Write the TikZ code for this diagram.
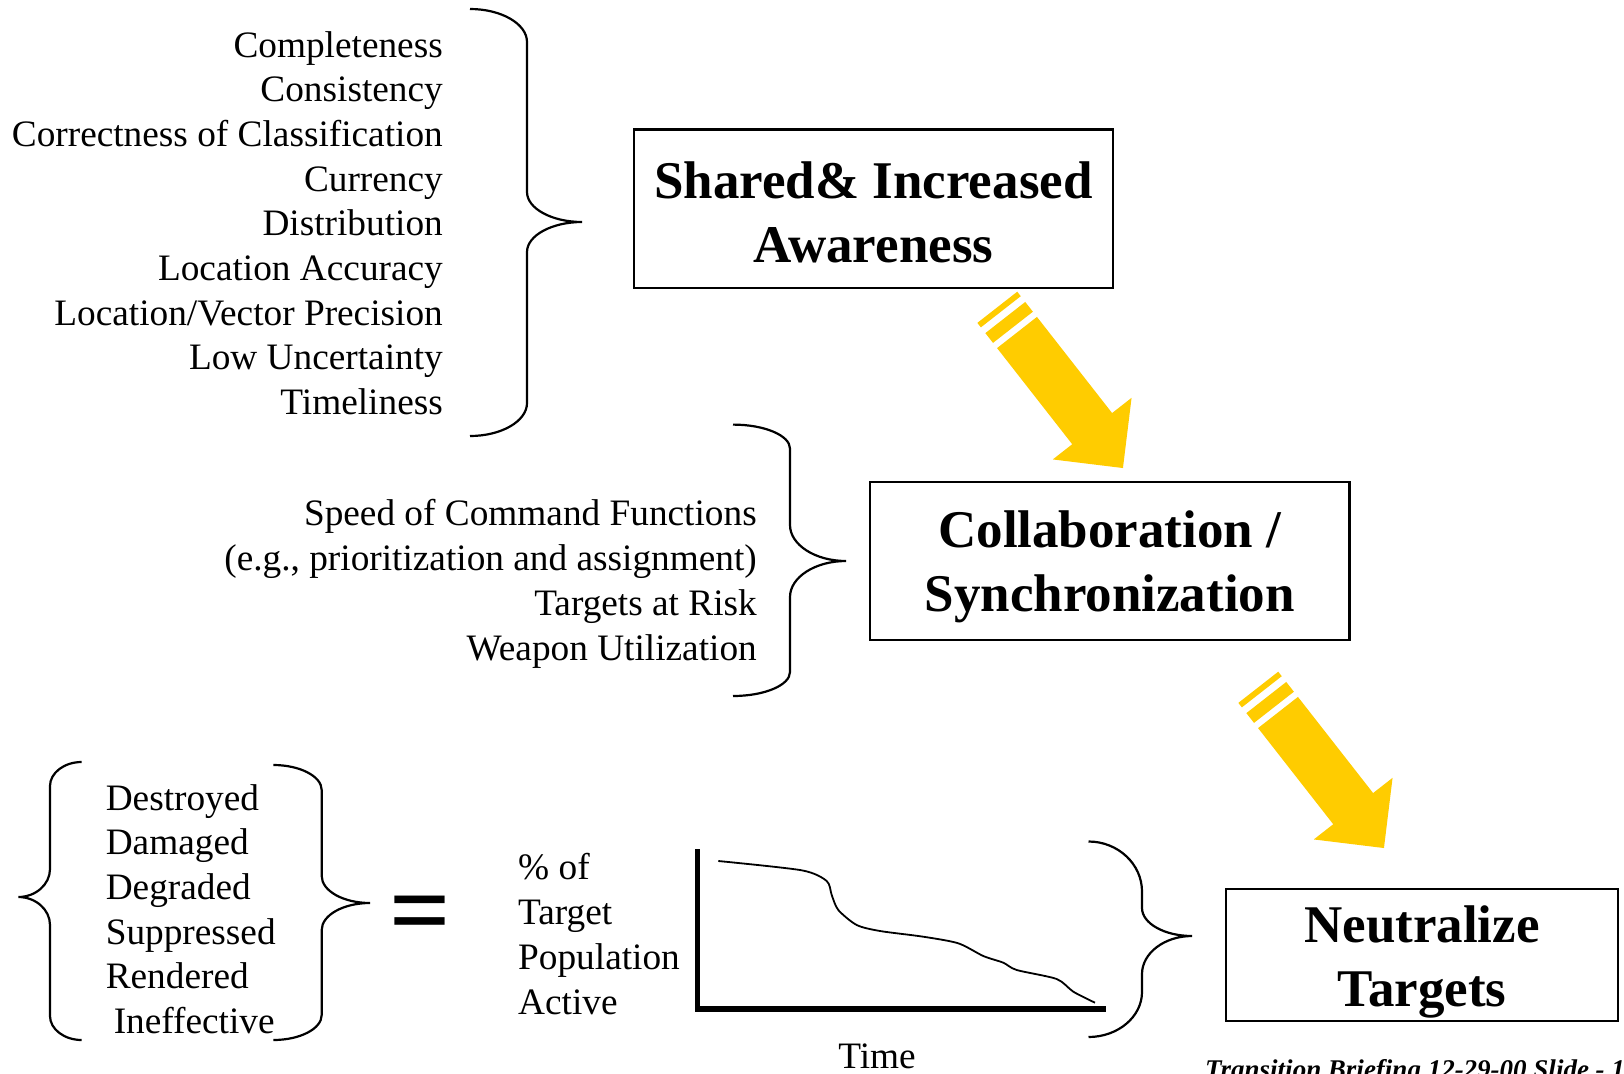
\documentclass[tikz,border=0pt]{standalone}
\usepackage{fontspec}
\setmainfont{Liberation Serif}
\definecolor{arrowyellow}{RGB}{255,204,0}
\tikzset{
  listtext/.style={font=\fontsize{37.3}{44.7}\selectfont, inner sep=0pt},
  boxnode/.style={draw, line width=2.2pt, font=\fontsize{53}{64}\selectfont\bfseries, align=center, inner sep=0pt},
  bracepath/.style={line width=2.2pt},
  yarrow/.style={fill=arrowyellow},
}
\newcommand{\blockarrow}{%
  \fill[yarrow] (0,25.3) -- (122,25.3) -- (122,50) -- (172,0) -- (122,-50) -- (122,-25.3) -- (0,-25.3) -- cycle;
  \fill[yarrow] (-19,-25.3) -- (-6.6,-25.3) -- (-6.6,25.3) -- (-19,25.3) -- cycle;
  \fill[yarrow] (-32,-25.3) -- (-26.3,-25.3) -- (-26.3,25.3) -- (-32,25.3) -- cycle;
}
\begin{document}
\begin{tikzpicture}[x=1pt,y=-1pt]
\fill[white] (0,0) rectangle (1624,1073);
\useasboundingbox (0,0) rectangle (1624,1073);

% top list
\node[listtext, align=right, anchor=north east] (toplist) at (443,31)
  {Completeness\\Consistency\\Correctness of Classification\\Currency\\Distribution\\Location Accuracy\\Location/Vector Precision\\Low Uncertainty\\Timeliness};
\draw[bracepath] (470,9) .. controls (501.4,9) and (527,23.9) .. (527,42)
  -- (527,192) .. controls (527,208.5) and (551.8,222) .. (582,222)
  .. controls (551.8,222) and (527,235.5) .. (527,252)
  -- (527,403) .. controls (527,421.2) and (501.4,436) .. (470,436);

% box 1
\node[boxnode, minimum width=479pt, minimum height=158.5pt] (aware) at (873.5,208.8)
  {\rule{0pt}{43pt}Shared\& Increased\\Awareness};

% arrow 1
\begin{scope}[shift={(1017,332.5)}, x={(0.616pt,-0.788pt)}, y={(0.788pt,0.616pt)}]
  \blockarrow
\end{scope}

% middle list
\node[listtext, align=right, anchor=north east] (midlist) at (757,499.5)
  {Speed of Command Functions\\(e.g., prioritization and assignment)\\Targets at Risk\\Weapon Utilization};
\draw[bracepath] (733,424.6) .. controls (764.4,424.6) and (790,435.4) .. (790,448.6)
  -- (790,525) .. controls (790,544.8) and (815.2,561) .. (846,561)
  .. controls (815.2,561) and (790,577.2) .. (790,597)
  -- (790,672) .. controls (790,685.2) and (764.4,696) .. (733,696);

% box 2
\node[boxnode, minimum width=479.5pt, minimum height=158.4pt] (collab) at (1109.75,560.8)
  {\rule{0pt}{49pt}Collaboration /\\Synchronization};

% arrow 2
\begin{scope}[shift={(1278,712.5)}, x={(0.616pt,-0.788pt)}, y={(0.788pt,0.616pt)}]
  \blockarrow
\end{scope}

% bottom-left braces and list
\draw[bracepath] (81.7,762) .. controls (64.3,762) and (50,772.8) .. (50,786)
  -- (50,869) .. controls (50,884.4) and (35.7,897) .. (18.3,897)
  .. controls (35.7,897) and (50,909.6) .. (50,925)
  -- (50,1016) .. controls (50,1029.2) and (64.3,1040) .. (81.7,1040);
\node[listtext, align=left, anchor=north west] (effects) at (105.6,784)
  {Destroyed\\Damaged\\Degraded\\Suppressed\\Rendered\\\hspace{8pt}Ineffective};
\draw[bracepath] (273.3,765) .. controls (299.9,765) and (321.7,776.3) .. (321.7,790)
  -- (321.7,876) .. controls (321.7,890.9) and (343.4,903) .. (370,903)
  .. controls (343.4,903) and (321.7,915.1) .. (321.7,930)
  -- (321.7,1015) .. controls (321.7,1028.8) and (299.9,1040) .. (273.3,1040);
\node[font=\fontsize{108}{108}\selectfont\bfseries, inner sep=0pt, anchor=base] (equals) at (420,946) {=};

% graph
\node[listtext, align=left, anchor=north west] (ylabel) at (518,853.5)
  {\%\ of\\Target\\Population\\Active};
\draw[line width=5.5pt] (697.5,849.3) -- (697.5,1009) -- (1106,1009);
\draw[line width=1.8pt, line join=round] plot[smooth, tension=0.45] coordinates {
  (718.3,861) (801.7,870.3) (826.7,881) (831.7,895) (838.3,910) (856.7,925) (880,931)
  (923.3,936.7) (958.3,943.3) (983.3,956) (1003.3,962.7) (1016.7,970) (1056.7,979)
  (1073.3,991.7) (1095,1002.7)};
\node[listtext, anchor=base] (time) at (877,1068) {Time};

% brace to box 3
\draw[bracepath] (1088.5,841.5) .. controls (1117.9,841.5) and (1142,864) .. (1142,891.5)
  -- (1142,908) .. controls (1142,923.4) and (1164.5,936) .. (1192,936)
  .. controls (1164.5,936) and (1142,953.1) .. (1142,974)
  -- (1142,992) .. controls (1142,1016.8) and (1117.9,1037) .. (1088.5,1037);

% box 3
\node[boxnode, minimum width=392pt, minimum height=132pt] (neutral) at (1422,955)
  {\rule{0pt}{51pt}Neutralize\\Targets};

% footer
\node[font=\fontsize{27}{27}\selectfont\bfseries\itshape, inner sep=0pt, anchor=base west] (footer) at (1205,1078)
  {Transition Briefing 12-29-00 Slide - 17};
\end{tikzpicture}
\end{document}
